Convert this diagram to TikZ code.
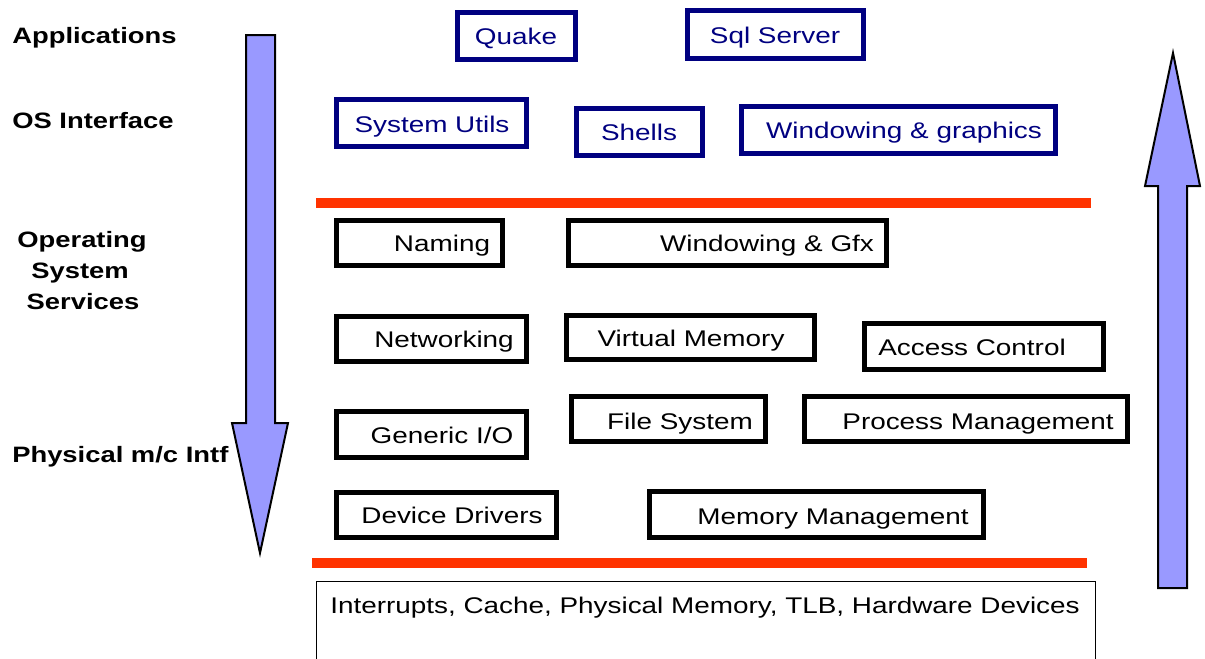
\documentclass[tikz,border=0pt]{standalone}
\usepackage{fontspec}
\setmainfont{Liberation Sans}
\usepackage{graphicx}
\definecolor{navyb}{RGB}{0,0,128}
\definecolor{redl}{RGB}{255,51,0}
\definecolor{lav}{RGB}{153,153,255}
\newcommand{\sx}[1]{\scalebox{1.23}[1]{#1}}
\begin{document}
\begin{tikzpicture}[x=0.75pt,y=-0.75pt,
  nbox/.style={draw=navyb, line width=3.75pt},
  kbox/.style={draw=black, line width=3.75pt},
  ntxt/.style={text=navyb, font=\fontsize{17}{20}\selectfont, anchor=base, inner sep=0pt},
  ktxt/.style={text=black, font=\fontsize{17}{20}\selectfont, anchor=base, inner sep=0pt},
  lbl/.style={font=\fontsize{16.7}{20}\bfseries\selectfont, anchor=base west, inner sep=0pt},
  bar/.style={draw=redl, line width=7pt},
  bigarrow/.style={fill=lav, draw=black, line width=1.5pt, line join=miter}]
\useasboundingbox (0,0) rectangle (1205,658);

% left labels
\node[lbl] (lapp) at (12,43) {\sx{Applications}};
\node[lbl] (los) at (12,128) {\sx{OS Interface}};
\node[font=\fontsize{16.7}{20}\bfseries\selectfont, anchor=base, inner sep=0pt] (los1) at (82,247) {\sx{Operating}};
\node[font=\fontsize{16.7}{20}\bfseries\selectfont, anchor=base, inner sep=0pt] (los2) at (80,278) {\sx{System}};
\node[font=\fontsize{16.7}{20}\bfseries\selectfont, anchor=base, inner sep=0pt] (los3) at (83,309) {\sx{Services}};
\node[lbl] (lphy) at (12,462) {\sx{Physical m/c Intf}};

% big arrows
\draw[bigarrow] (246,35) -- (275,35) -- (275,423) -- (288,423) -- (260,553) -- (232,423) -- (246,423) -- cycle;
\draw[bigarrow] (1158,588) -- (1187,588) -- (1187,186) -- (1200,186) -- (1173,53) -- (1145,186) -- (1158,186) -- cycle;

% application / OS interface boxes
\draw[nbox] (457.5,12.5) rectangle (575.5,59.5);
\node[ntxt] (quake) at (516,44) {\sx{Quake}};
\draw[nbox] (687.5,10.5) rectangle (863.5,58.5);
\node[ntxt] (sql) at (775,43) {\sx{Sql Server}};
\draw[nbox] (336.5,99.5) rectangle (526.5,146.5);
\node[ntxt] (sysu) at (432,132) {\sx{System Utils}};
\draw[nbox] (576.5,108.5) rectangle (702.5,155.5);
\node[ntxt] (shells) at (639,140) {\sx{Shells}};
\draw[nbox] (741.5,106.5) rectangle (1055.5,153.5);
\node[ntxt] (wing) at (904,138) {\sx{Windowing \& graphics}};

% red bars
\draw[bar] (316,203) -- (1091,203);
\draw[bar] (312,563) -- (1087,563);

% OS services boxes
\draw[kbox] (336.5,220.5) rectangle (502.5,265.5);
\node[ktxt] (naming) at (442,251) {\sx{Naming}};
\draw[kbox] (568.5,220.5) rectangle (886.5,265.5);
\node[ktxt] (wgfx) at (767,251) {\sx{Windowing \& Gfx}};
\draw[kbox] (336.5,316.5) rectangle (526.5,361.5);
\node[ktxt] (net) at (444,347) {\sx{Networking}};
\draw[kbox] (566.5,315.5) rectangle (814.5,359.5);
\node[ktxt] (vm) at (691,346) {\sx{Virtual Memory}};
\draw[kbox] (864.5,323.5) rectangle (1103.5,369.5);
\node[ktxt] (ac) at (972,355) {\sx{Access Control}};
\draw[kbox] (336.5,411.5) rectangle (526.5,457.5);
\node[ktxt] (gio) at (442,443) {\sx{Generic I/O}};
\draw[kbox] (571.5,396.5) rectangle (765.5,441.5);
\node[ktxt] (fs) at (680,429) {\sx{File System}};
\draw[kbox] (804.5,396.5) rectangle (1127.5,441.5);
\node[ktxt] (pm) at (978,429) {\sx{Process Management}};
\draw[kbox] (336.5,492.5) rectangle (556.5,537.5);
\node[ktxt] (dd) at (452,523) {\sx{Device Drivers}};
\draw[kbox] (649.5,491.5) rectangle (983.5,537.5);
\node[ktxt] (mm) at (833,524) {\sx{Memory Management}};

% hardware box (open at bottom edge)
\draw[line width=1.2pt] (316.5,665) -- (316.5,581.5) -- (1095.5,581.5) -- (1095.5,665);
\node[ktxt] (hw) at (705,613) {\sx{Interrupts, Cache, Physical Memory, TLB, Hardware Devices}};
\end{tikzpicture}
\end{document}
